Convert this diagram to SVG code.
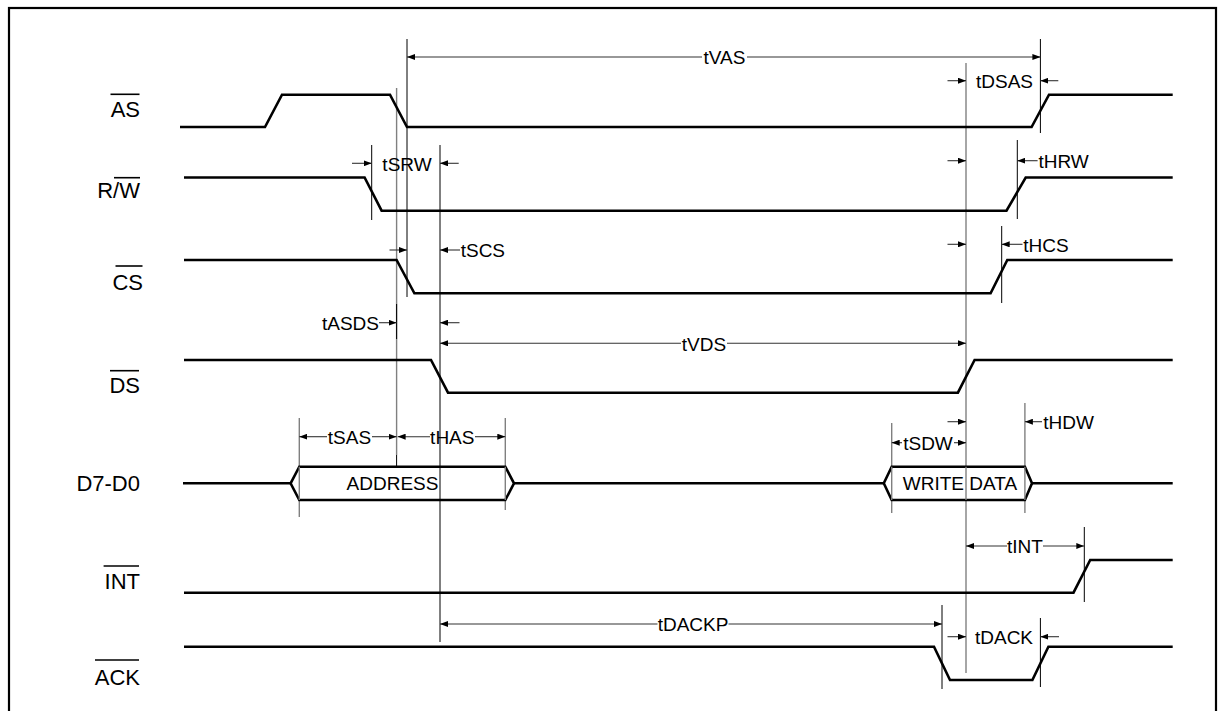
<svg xmlns="http://www.w3.org/2000/svg" width="1225" height="711" viewBox="0 0 1225 711">
<defs>
<marker id="ah" viewBox="0 0 8 6" refX="8" refY="3" markerWidth="8" markerHeight="6" markerUnits="userSpaceOnUse" orient="auto-start-reverse">
<path d="M0,0 L8,3 L0,6 Z" fill="#000"/>
</marker>
<style>
.wave{fill:none;stroke:#000;stroke-width:2.6;stroke-linejoin:miter}
.bus{fill:#fff;stroke:#000;stroke-width:2.6}
.ref{stroke:#000;stroke-width:1}
.refg{stroke:#808080;stroke-width:1.4}
.dim{stroke:#333;stroke-width:1.1;fill:none}
.lbl{font-family:"Liberation Sans",Arial,sans-serif;font-size:22px;fill:#000;text-anchor:end}
.ov{stroke:#000;stroke-width:1.6}
.t{font-family:"Liberation Sans",Arial,sans-serif;font-size:19px;fill:#000}
.c{text-anchor:middle}
</style>
</defs>
<rect x="9" y="8" width="1207" height="720" fill="#fff" stroke="#000" stroke-width="2.2"/>

<g id="labels">
<g id="lbl-AS"><text class="lbl" x="140" y="117.3">AS</text><line class="ov" x1="110.5" y1="94.3" x2="139.5" y2="94.3"/></g>
<g id="lbl-RW"><text class="lbl" x="140" y="197.7">R/W</text><line class="ov" x1="114" y1="177.7" x2="140" y2="177.7"/></g>
<g id="lbl-CS"><text class="lbl" x="143" y="290">CS</text><line class="ov" x1="115.5" y1="266" x2="142.5" y2="266"/></g>
<g id="lbl-DS"><text class="lbl" x="140" y="393">DS</text><line class="ov" x1="110" y1="370.7" x2="139" y2="370.7"/></g>
<g id="lbl-D"><text class="lbl" x="140" y="490.7">D7-D0</text></g>
<g id="lbl-INT"><text class="lbl" x="140" y="589.3">INT</text><line class="ov" x1="103.6" y1="566" x2="139" y2="566"/></g>
<g id="lbl-ACK"><text class="lbl" x="140" y="685">ACK</text><line class="ov" x1="95" y1="660" x2="139" y2="660"/></g>
</g>

<g id="references">
<line class="refg" x1="396.6" y1="88" x2="396.6" y2="455"/>
<line class="ref" x1="396.6" y1="304" x2="396.6" y2="339" stroke-width="1.6"/>
<line class="ref" x1="407" y1="39" x2="407" y2="297"/>
<line class="ref" x1="371.7" y1="145" x2="371.7" y2="220"/>
<line class="ref" x1="440" y1="145" x2="440" y2="642"/>
<line class="ref" x1="1040.4" y1="39" x2="1040.4" y2="133"/>
<line class="refg" x1="966" y1="63" x2="966" y2="673" stroke="#555"/>
<line class="ref" x1="1017.3" y1="140" x2="1017.3" y2="219"/>
<line class="ref" x1="1001.7" y1="226" x2="1001.7" y2="303"/>
<line class="refg" x1="299.3" y1="418" x2="299.3" y2="517"/>
<line class="refg" x1="505.3" y1="418" x2="505.3" y2="510"/>
<line class="refg" x1="891.7" y1="423" x2="891.7" y2="513"/>
<line class="refg" x1="1024.9" y1="403" x2="1024.9" y2="513"/>
<line class="ref" x1="1084.3" y1="527" x2="1084.3" y2="602"/>
<line class="ref" x1="942" y1="605" x2="942" y2="689"/>
<line class="ref" x1="1040.4" y1="618" x2="1040.4" y2="687"/>
</g>

<g id="waveforms">
<g id="AS"><path class="wave" d="M180,127 L265,127 L282,94.7 L390,94.7 L407,127 L1031.6,127 L1049,94.7 L1172.7,94.7"/></g>
<g id="RW"><path class="wave" d="M184,177.5 L364.6,177.5 L381.6,210.7 L1006.5,210.7 L1025.7,177.5 L1172.7,177.5"/></g>
<g id="CS"><path class="wave" d="M184,260 L396.6,260 L414.4,293.3 L990.6,293.3 L1007.3,260 L1172.7,260"/></g>
<g id="DS"><path class="wave" d="M184,360 L431,360 L448,392.7 L957.9,392.7 L974.6,360 L1172.7,360"/></g>
<g id="D7-D0">
<path class="wave" d="M183,483.3 L290.6,483.3 M514,483.3 L883.8,483.3 M1032,483.3 L1172.7,483.3"/>
<path class="bus" d="M290.6,483.3 L299.3,466.7 L505.3,466.7 L514,483.3 L505.3,500 L299.3,500 Z"/>
<path class="bus" d="M883.8,483.3 L891.7,466.7 L1024.9,466.7 L1032,483.3 L1024.9,500 L891.7,500 Z"/>
<line class="refg" x1="299.3" y1="466.7" x2="299.3" y2="500"/>
<line class="refg" x1="505.3" y1="466.7" x2="505.3" y2="500"/>
<line class="refg" x1="891.7" y1="466.7" x2="891.7" y2="500"/>
<line class="refg" x1="1024.9" y1="466.7" x2="1024.9" y2="500"/>
<line class="ref" x1="396.6" y1="466.7" x2="396.6" y2="455" stroke="none"/>
<text class="t c" x="392.5" y="489.5">ADDRESS</text>
<text class="t c" x="960" y="490">WRITE DATA</text>
</g>
<g id="INT"><path class="wave" d="M184,592.7 L1073.5,592.7 L1090.2,560 L1172.7,560"/></g>
<g id="ACK"><path class="wave" d="M184,646.7 L934,646.7 L950,680 L1032.4,680 L1048.4,646.7 L1172.7,646.7"/></g>
</g>

<g id="connectors">
<line class="ref" x1="440" y1="466.7" x2="440" y2="500"/>
<line class="refg" x1="966" y1="466.7" x2="966" y2="500" stroke="#555"/>
<!-- tVAS -->
<line class="dim" x1="702" y1="57" x2="407" y2="57" marker-end="url(#ah)"/>
<line class="dim" x1="747" y1="57" x2="1040.4" y2="57" marker-end="url(#ah)"/>
<!-- tDSAS -->
<line class="dim" x1="947.5" y1="80.7" x2="966" y2="80.7" marker-end="url(#ah)"/>
<line class="dim" x1="1058.3" y1="80.7" x2="1040.4" y2="80.7" marker-end="url(#ah)"/>
<!-- tSRW -->
<line class="dim" x1="352" y1="163.3" x2="371.7" y2="163.3" marker-end="url(#ah)"/>
<line class="dim" x1="458.7" y1="163.3" x2="440" y2="163.3" marker-end="url(#ah)"/>
<!-- tHRW -->
<line class="dim" x1="947.5" y1="160.7" x2="966" y2="160.7" marker-end="url(#ah)"/>
<line class="dim" x1="1037.6" y1="160.7" x2="1017.3" y2="160.7" marker-end="url(#ah)"/>
<!-- tSCS -->
<line class="dim" x1="389.5" y1="250" x2="407" y2="250" marker-end="url(#ah)"/>
<line class="dim" x1="460" y1="250" x2="440" y2="250" marker-end="url(#ah)"/>
<!-- tHCS -->
<line class="dim" x1="947.5" y1="244.3" x2="966" y2="244.3" marker-end="url(#ah)"/>
<line class="dim" x1="1022.5" y1="244.3" x2="1001.7" y2="244.3" marker-end="url(#ah)"/>
<!-- tASDS -->
<line class="dim" x1="379" y1="322.7" x2="396.6" y2="322.7" marker-end="url(#ah)"/>
<line class="dim" x1="459.5" y1="322.7" x2="440" y2="322.7" marker-end="url(#ah)"/>
<!-- tVDS -->
<line class="dim" x1="681" y1="343.3" x2="440" y2="343.3" marker-end="url(#ah)"/>
<line class="dim" x1="727" y1="343.3" x2="966" y2="343.3" marker-end="url(#ah)"/>
<!-- tSAS -->
<line class="dim" x1="327" y1="436.7" x2="299.3" y2="436.7" marker-end="url(#ah)"/>
<line class="dim" x1="372" y1="436.7" x2="396.6" y2="436.7" marker-end="url(#ah)"/>
<!-- tHAS -->
<line class="dim" x1="430" y1="436.7" x2="397.6" y2="436.7" marker-end="url(#ah)"/>
<line class="dim" x1="475" y1="436.7" x2="505.3" y2="436.7" marker-end="url(#ah)"/>
<!-- tSDW -->
<line class="dim" x1="902" y1="442.7" x2="891.7" y2="442.7" marker-end="url(#ah)"/>
<line class="dim" x1="954" y1="442.7" x2="966" y2="442.7" marker-end="url(#ah)"/>
<!-- tHDW -->
<line class="dim" x1="947.5" y1="421.7" x2="966" y2="421.7" marker-end="url(#ah)"/>
<line class="dim" x1="1042" y1="421.7" x2="1024.9" y2="421.7" marker-end="url(#ah)"/>
<!-- tINT -->
<line class="dim" x1="1007" y1="546" x2="966" y2="546" marker-end="url(#ah)"/>
<line class="dim" x1="1043" y1="546" x2="1084.3" y2="546" marker-end="url(#ah)"/>
<!-- tDACKP -->
<line class="dim" x1="657.5" y1="624" x2="440" y2="624" marker-end="url(#ah)"/>
<line class="dim" x1="728.5" y1="624" x2="942" y2="624" marker-end="url(#ah)"/>
<!-- tDACK -->
<line class="dim" x1="947.5" y1="636.7" x2="966" y2="636.7" marker-end="url(#ah)"/>
<line class="dim" x1="1059" y1="636.7" x2="1040.4" y2="636.7" marker-end="url(#ah)"/>
</g>

<g id="timing-labels">
<text class="t c" x="724.5" y="64.3">tVAS</text>
<text class="t c" x="1004.5" y="88">tDSAS</text>
<text class="t c" x="407" y="170.5">tSRW</text>
<text class="t" x="1038.4" y="168">tHRW</text>
<text class="t" x="460.7" y="257.2">tSCS</text>
<text class="t" x="1023.3" y="251.5">tHCS</text>
<text class="t" x="379" y="329.8" text-anchor="end">tASDS</text>
<text class="t c" x="704" y="350.5">tVDS</text>
<text class="t c" x="349.5" y="443.8">tSAS</text>
<text class="t c" x="452.3" y="443.8">tHAS</text>
<text class="t c" x="928" y="449.8">tSDW</text>
<text class="t" x="1043.2" y="428.8">tHDW</text>
<text class="t c" x="1025" y="553.2">tINT</text>
<text class="t c" x="693" y="631.2">tDACKP</text>
<text class="t c" x="1004" y="643.8">tDACK</text>
</g>
</svg>
